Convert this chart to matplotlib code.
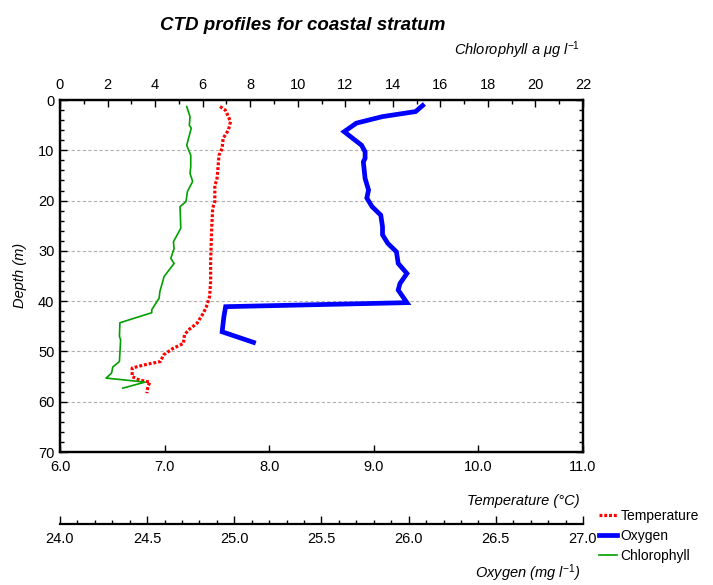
import matplotlib
matplotlib.use('Agg')
import matplotlib.pyplot as plt
from matplotlib.ticker import MultipleLocator, FormatStrFormatter
from matplotlib.lines import Line2D

fam = 'Liberation Sans'
plt.rcParams['font.family'] = [fam, 'DejaVu Sans']
plt.rcParams['mathtext.fontset'] = 'custom'
plt.rcParams['mathtext.rm'] = fam
plt.rcParams['mathtext.it'] = fam + ':italic'

# temperature profile (deg C vs depth m)
temp_depth = [1.3, 2.0, 3.3, 4.3, 6.0, 7.6, 9.6, 11.0, 13.6, 15.9, 16.9, 20.2, 21.5, 25.5, 32.1,
              36.1, 39.1, 41.1, 42.4, 44.4, 45.7, 46.7, 48.4, 49.4, 50.7, 52.0, 52.7, 53.3,
              55.0, 55.7, 56.1, 57.0, 58.3]
temp_vals = [7.53, 7.58, 7.61, 7.63, 7.61, 7.56, 7.55, 7.52, 7.51, 7.50, 7.48, 7.48, 7.46, 7.45, 7.44,
             7.44, 7.43, 7.40, 7.37, 7.31, 7.23, 7.19, 7.18, 7.08, 6.99, 6.96, 6.80, 6.69,
             6.69, 6.76, 6.86, 6.84, 6.83]

# oxygen profile (mg/l vs depth m)
oxy_depth = [1.1, 2.3, 3.3, 4.6, 6.3, 9.0, 10.3, 11.6, 12.3, 15.6, 17.9, 19.5, 21.2, 22.9, 25.2,
             26.8, 28.5, 30.2, 32.5, 34.5, 36.5, 37.8, 40.3, 41.1, 43.1, 46.1, 48.2]
oxy_vals = [26.08, 26.04, 25.85, 25.70, 25.63, 25.73, 25.75, 25.75, 25.74, 25.75, 25.77, 25.76, 25.79,
            25.84, 25.85, 25.85, 25.88, 25.93, 25.94, 25.99, 25.95, 25.94, 25.99, 24.95, 24.94,
            24.93, 25.11]

# chlorophyll a profile (ug/l vs depth m)
chl_depth = [1.3, 3.3, 5.0, 5.6, 9.0, 11.0, 13.3, 14.6, 16.2, 18.2, 20.2, 21.2, 25.5, 28.2, 29.5,
             31.5, 32.5, 35.1, 38.1, 39.4, 41.7, 42.3, 44.3, 47.0, 47.7, 52.0, 53.1, 54.3, 55.3,
             56.1, 57.3]
chl_vals = [5.33, 5.47, 5.44, 5.52, 5.33, 5.50, 5.50, 5.47, 5.58, 5.36, 5.30, 5.05, 5.08, 4.77, 4.80,
            4.66, 4.80, 4.38, 4.20, 4.17, 3.86, 3.86, 2.52, 2.50, 2.55, 2.50, 2.22, 2.17, 1.94,
            3.58, 2.64]

fig = plt.figure(figsize=(7.13, 5.85), dpi=100)
ax = fig.add_axes([60 / 713, 1 - 452 / 585, 523 / 713, 352 / 585])
ax_chl = ax.twiny()
ax_oxy = ax.twiny()

ax.plot(temp_vals, temp_depth, color='#ff0000', lw=2.3, ls=(0, (0.9, 0.6)), zorder=3)
ax_chl.plot(chl_vals, chl_depth, color='#00a000', lw=1.2)
ax_oxy.plot(oxy_vals, oxy_depth, color='#0000ff', lw=3.4, solid_joinstyle='miter')

ax.set_xlim(6.0, 11.0)
ax.set_ylim(70, 0)
ax_chl.set_xlim(0, 22)
ax_oxy.set_xlim(24.0, 27.0)

for a in (ax, ax_chl, ax_oxy):
    for s in a.spines.values():
        s.set_linewidth(1.6)

ax.yaxis.set_major_locator(MultipleLocator(10))
ax.yaxis.set_minor_locator(MultipleLocator(2))
ax.xaxis.set_major_locator(MultipleLocator(1.0))
ax.xaxis.set_major_formatter(FormatStrFormatter('%.1f'))
ax.tick_params(axis='y', which='both', direction='in', right=True, labelsize=10.5, width=1)
ax.tick_params(axis='y', which='major', length=5, pad=4)
ax.tick_params(axis='y', which='minor', length=3)
ax.tick_params(axis='x', which='major', direction='in', length=5, width=1, labelsize=10.5, pad=6)
ax.grid(axis='y', which='major', color='#b0b0b0', ls=(0, (3, 2)), lw=0.8)

ax_chl.xaxis.set_major_locator(MultipleLocator(2))
ax_chl.xaxis.set_minor_locator(MultipleLocator(1))
ax_chl.tick_params(axis='x', which='both', direction='in', width=1, labelsize=10.5, pad=6)
ax_chl.tick_params(axis='x', which='major', length=5)
ax_chl.tick_params(axis='x', which='minor', length=3)

ax_oxy.xaxis.set_ticks_position('bottom')
ax_oxy.xaxis.set_label_position('bottom')
ax_oxy.spines['bottom'].set_position(('outward', 72 * 72 / 100))
for side in ('top', 'left', 'right'):
    ax_oxy.spines[side].set_visible(False)
ax_oxy.xaxis.set_major_locator(MultipleLocator(0.5))
ax_oxy.xaxis.set_minor_locator(MultipleLocator(0.1))
ax_oxy.xaxis.set_major_formatter(FormatStrFormatter('%.1f'))
ax_oxy.tick_params(axis='x', which='both', direction='in', width=1, labelsize=10.5, pad=6)
ax_oxy.tick_params(axis='x', which='major', length=6)
ax_oxy.tick_params(axis='x', which='minor', length=3)

fig.text(303 / 713, 1 - 25 / 585, 'CTD profiles for coastal stratum', ha='center', va='center',
         fontsize=13.5, fontweight='bold', fontstyle='italic')
fig.text(580 / 713, 1 - 50 / 585, r'Chlorophyll a $\mu$g l$^{-1}$', ha='right', va='center',
         fontsize=10.5, fontstyle='italic')
fig.text(580 / 713, 1 - 501 / 585, 'Temperature (°C)', ha='right', va='center',
         fontsize=10.5, fontstyle='italic')
fig.text(580 / 713, 1 - 573 / 585, r'Oxygen (mg l$^{-1}$)', ha='right', va='center',
         fontsize=10.5, fontstyle='italic')
fig.text(20 / 713, 1 - 275 / 585, 'Depth (m)', ha='center', va='center', rotation=90,
         fontsize=10.5, fontstyle='italic')

handles = [Line2D([], [], color='#ff0000', lw=2.3, ls=(0, (0.9, 0.6))),
           Line2D([], [], color='#0000ff', lw=3.4),
           Line2D([], [], color='#00a000', lw=1.2)]
fig.legend(handles, ['Temperature', 'Oxygen', 'Chlorophyll'], loc='upper left',
           bbox_to_anchor=(596 / 713, 1 - 506 / 585), frameon=False, fontsize=10,
           handlelength=1.3, handletextpad=0.25, labelspacing=0.45, borderpad=0.2,
           borderaxespad=0)

fig.savefig('out.png', dpi=100)
